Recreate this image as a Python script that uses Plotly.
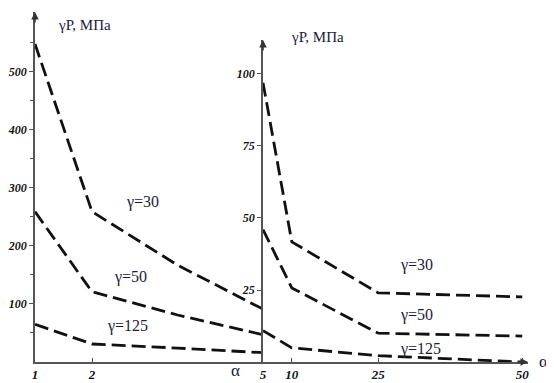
import plotly.graph_objects as go

# Left panel (alpha 1..5)
left_alpha = [1, 2, 3.5, 5]
left_g30 = [548, 259, 167, 91]
left_g50 = [259, 121, 81, 47]
left_g125 = [65, 31, 24, 16]

# Right panel (alpha 5..50)
right_alpha = [5, 10, 25, 50]
right_g30 = [97, 41.7, 24, 22.6]
right_g50 = [46, 25.7, 10, 9]
right_g125 = [10.9, 4.9, 2.2, 0]

left_yticks = [100, 200, 300, 400, 500]
right_yticks = [25, 50, 75, 100]
left_xticks = [1, 2, 5]
right_xticks = [10, 25, 50]

series_names = ["γ=30", "γ=50", "γ=125"]

LINE = dict(color="#111111", width=2.8, dash="14px,6px")
AXC = "#555555"
TXT = "#1b1b3a"
SERIF = "Liberation Serif"

fig = go.Figure()
for name, ys in zip(series_names, [left_g30, left_g50, left_g125]):
    fig.add_trace(go.Scatter(x=left_alpha, y=ys, mode="lines", line=LINE,
                             name=name, xaxis="x", yaxis="y", showlegend=False))
for name, ys in zip(series_names, [right_g30, right_g50, right_g125]):
    fig.add_trace(go.Scatter(x=right_alpha, y=ys, mode="lines", line=LINE,
                             name=name, xaxis="x2", yaxis="y2", showlegend=False))

tickfont = dict(family=SERIF, size=13, color="#111111", weight="bold", style="italic")
ytickfont = dict(family=SERIF, size=12, color="#111111", weight="bold", style="italic")

# page body has an 8px margin, so the figure is shrunk and margins shifted by 8px
fig.update_layout(
    width=546, height=375,
    margin=dict(l=27, r=26, t=4, b=21),
    font=dict(family=SERIF),
    paper_bgcolor="white", plot_bgcolor="rgba(0,0,0,0)",
    xaxis=dict(domain=[0, 0.4625], range=[1, 5], anchor="y", automargin=False,
               tickvals=left_xticks, ticktext=[str(v) for v in left_xticks],
               showgrid=False, zeroline=False, showline=True, linecolor=AXC, linewidth=1.5,
               ticks="inside", ticklen=4, tickcolor=AXC, tickfont=tickfont,
               ticklabelstandoff=0),
    yaxis=dict(domain=[0, 1], range=[0, 603], anchor="x", automargin=False,
               tickvals=left_yticks, showgrid=False, zeroline=False, showline=True,
               linecolor=AXC, linewidth=1.5, ticks="outside", ticklen=4, tickcolor=AXC,
               tickfont=ytickfont, ticklabelstandoff=0,
               minor=dict(tickvals=[50, 150, 250, 350, 450, 550], ticks="outside",
                          ticklen=3, tickcolor=AXC)),
    xaxis2=dict(domain=[0.4625, 1], range=[5, 51], anchor="y2", automargin=False,
                tickvals=right_xticks, ticktext=[str(v) for v in right_xticks],
                showgrid=False, zeroline=False, showline=True, linecolor=AXC, linewidth=1.5,
                ticks="inside", ticklen=4, tickcolor=AXC, tickfont=tickfont,
                ticklabelstandoff=0),
    yaxis2=dict(domain=[0, 0.92], range=[0, 111.8], anchor="x2", automargin=False,
                tickvals=right_yticks, showgrid=False, zeroline=False, showline=True,
                linecolor=AXC, linewidth=1.5, ticks="outside", ticklen=4, tickcolor=AXC,
                tickfont=ytickfont, ticklabelstandoff=0),
)

lab = dict(family=SERIF, size=16, color=TXT)
# Series labels
fig.add_annotation(x=2.89, y=276, xref="x", yref="y", text="γ=30", showarrow=False, font=lab)
fig.add_annotation(x=2.67, y=147, xref="x", yref="y", text="γ=50", showarrow=False, font=lab)
fig.add_annotation(x=2.63, y=62, xref="x", yref="y", text="γ=125", showarrow=False, font=lab)
fig.add_annotation(x=31.7, y=33.7, xref="x2", yref="y2", text="γ=30", showarrow=False, font=lab)
fig.add_annotation(x=31.7, y=16.3, xref="x2", yref="y2", text="γ=50", showarrow=False, font=lab)
fig.add_annotation(x=32.3, y=4.5, xref="x2", yref="y2", text="γ=125", showarrow=False, font=lab)

# Axis titles (paper coordinates)
fig.add_annotation(x=0.4077, y=-0.0257, xref="paper", yref="paper", text="α", showarrow=False,
                   xanchor="center", yanchor="middle",
                   font=dict(family=SERIF, size=17, color=TXT))
fig.add_annotation(x=1, xref="paper", y=0, yref="paper", text="α", showarrow=False,
                   xanchor="left", yanchor="middle", xshift=9, yshift=1,
                   font=dict(family=SERIF, size=17, color=TXT))
fig.add_annotation(x=0.1014, y=0.963, xref="paper", yref="paper", text="γP, МПа", showarrow=False,
                   xanchor="center", yanchor="middle",
                   font=dict(family=SERIF, size=15, color=TXT))
fig.add_annotation(x=0.574, y=0.9286, xref="paper", yref="paper", text="γP, МПа", showarrow=False,
                   xanchor="center", yanchor="middle",
                   font=dict(family=SERIF, size=15, color=TXT))

# Axis arrowheads
arr = dict(showarrow=True, arrowhead=2, arrowsize=1, arrowwidth=1.5, arrowcolor="#333333", text="")
fig.add_annotation(x=1, y=603, xref="x", yref="y", ax=0, ay=12, **arr)
fig.add_annotation(x=5, y=111.8, xref="x2", yref="y2", ax=0, ay=12, **arr)
fig.add_annotation(x=51, y=0, xref="x2", yref="y2", ax=-12, ay=0, **arr)

fig.write_html("out.html")
